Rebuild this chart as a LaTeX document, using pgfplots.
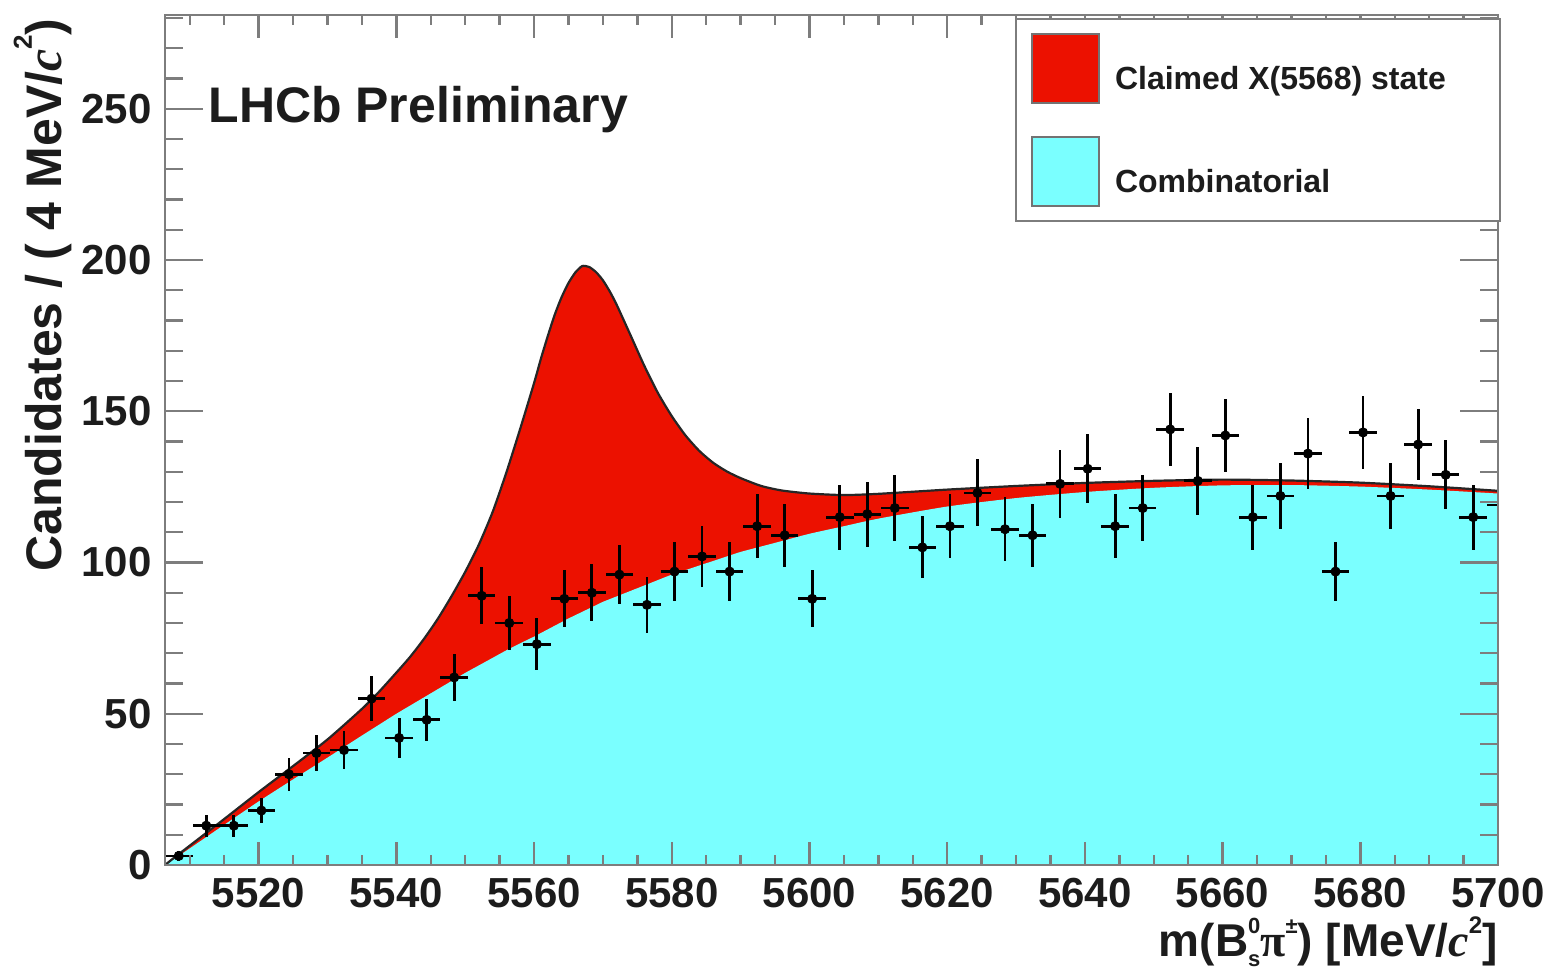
\documentclass[border=0pt]{standalone}
\usepackage{fontspec}
\setmainfont{Liberation Sans}
\newfontfamily\seriffont{Liberation Serif}
\usepackage{pgfplots}
\pgfplotsset{compat=1.18}
\usepackage{pgfplotstable}

\definecolor{sigred}{RGB}{236,17,0}
\definecolor{combcyan}{RGB}{122,255,255}
\definecolor{framegray}{RGB}{125,125,125}
\definecolor{ink}{RGB}{28,28,28}

% Fit components: B = combinatorial background, T = background + X(5568) signal
\pgfplotstableread{
x      B      T
5506.4 0.0    0.0
5508   2.4    2.9
5510   5.5    6.4
5515   13.3   15.2
5520   21.0   24.1
5525   28.3   32.7
5530   35.5   41.5
5535   42.8   51.6
5537.5 46.4   57.3
5540   50.0   63.6
5542   52.7   68.8
5544   55.4   74.7
5546   58.1   81.3
5548   60.8   88.8
5550   63.5   96.9
5552   66.0   106.0
5554   68.5   116.8
5556   71.0   129.9
5558   73.3   144.3
5560   75.5   159.3
5561   76.7   167.4
5562   77.9   174.9
5563   79.1   181.9
5564   80.3   187.7
5565   81.5   192.4
5566   82.6   195.9
5567   83.7   198.0
5568   84.8   197.7
5569   85.9   196.0
5570   87.0   193.3
5571   87.9   189.6
5572   88.8   185.2
5574   90.6   175.2
5576   92.4   165.1
5578   94.2   156.0
5580   96.0   148.4
5582   97.5   142.0
5584   99.0   136.9
5586   100.5  133.0
5588   102.0  130.1
5590   103.5  127.9
5593   105.3  125.3
5596   107.1  123.8
5600   109.5  122.8
5605   112.0  122.3
5610   114.5  122.7
5620   118.5  124.1
5630   121.3  125.3
5640   123.3  126.3
5650   124.7  127.0
5660   125.5  127.4
5670   125.6  127.1
5680   125.1  126.4
5690   124.1  125.2
5700   122.8  123.7
}\fitcurves

% Candidates per 4 MeV bin with Poisson uncertainties
\pgfplotstableread{
x      y    ex  ey
5508.4 3    2   1.73
5512.4 13   2   3.61
5516.4 13   2   3.61
5520.4 18   2   4.24
5524.4 30   2   5.48
5528.4 37   2   6.08
5532.4 38   2   6.16
5536.4 55   2   7.42
5540.4 42   2   6.48
5544.4 48   2   6.93
5548.4 62   2   7.87
5552.4 89   2   9.43
5556.4 80   2   8.94
5560.4 73   2   8.54
5564.4 88   2   9.38
5568.4 90   2   9.49
5572.4 96   2   9.80
5576.4 86   2   9.27
5580.4 97   2   9.85
5584.4 102  2   10.10
5588.4 97   2   9.85
5592.4 112  2   10.58
5596.4 109  2   10.44
5600.4 88   2   9.38
5604.4 115  2   10.72
5608.4 116  2   10.77
5612.4 118  2   10.86
5616.4 105  2   10.25
5620.4 112  2   10.58
5624.4 123  2   11.09
5628.4 111  2   10.54
5632.4 109  2   10.44
5636.4 126  2   11.22
5640.4 131  2   11.45
5644.4 112  2   10.58
5648.4 118  2   10.86
5652.4 144  2   12.00
5656.4 127  2   11.27
5660.4 142  2   11.92
5664.4 115  2   10.72
5668.4 122  2   11.05
5672.4 136  2   11.66
5676.4 97   2   9.85
5680.4 143  2   11.96
5684.4 122  2   11.05
5688.4 139  2   11.79
5692.4 129  2   11.36
5696.4 115  2   10.72
5700.4 119  2   10.91
}\candidates

\begin{document}
\begin{tikzpicture}
\begin{axis}[
  scale only axis,
  width=666.5pt, height=425pt,
  xmin=5506.4, xmax=5700,
  ymin=0, ymax=281,
  axis on top,
  clip marker paths=true,
  axis line style={draw=framegray, line width=1.3pt},
  every tick/.style={draw=framegray, line width=1.2pt},
  tick align=inside,
  xtick={5520,5540,...,5700},
  minor xtick={5510,5515,...,5700},
  ytick={0,50,...,250},
  minor ytick={10,20,...,280},
  xtick style={/pgfplots/major tick length=11.5pt, /pgfplots/minor tick length=5pt},
  ytick style={/pgfplots/major tick length=19pt, /pgfplots/minor tick length=9pt},
  /pgf/number format/assume math mode=true,
  /pgf/number format/1000 sep={},
  tick label style={font=\fontsize{21}{21}\selectfont\bfseries, text=ink, inner sep=0pt},
  x tick label style={yshift=-6.5pt},
  y tick label style={xshift=-6.5pt},
  xlabel={m(B\makebox[0pt][l]{\raisebox{0.5em}{\fontsize{11}{11}\selectfont 0}}\raisebox{-0.22em}{\fontsize{11}{11}\selectfont s}{\seriffont π}\raisebox{0.5em}{\fontsize{11}{11}\selectfont ±}) [MeV/{\seriffont\itshape c}\raisebox{0.5em}{\fontsize{12}{12}\selectfont 2}]},
  xlabel style={at={(rel axis cs:1,-0.108)}, anchor=base east, inner sep=0pt,
    font=\fontsize{23}{23}\selectfont\bfseries, text=ink},
  ylabel={Candidates / ( 4 MeV/{\seriffont\itshape c}\raisebox{0.6em}{\fontsize{13}{13}\selectfont 2})},
  ylabel style={at={(rel axis cs:-0.0773,0.9965)}, anchor=base east, inner sep=0pt,
    font=\fontsize{25}{25}\selectfont\bfseries, text=ink},
  legend style={at={(rel axis cs:0.6377,0.9965)}, anchor=north west,
    draw=framegray, line width=1.2pt, fill=white,
    inner xsep=7.5pt, inner ysep=7pt,
    font=\fontsize{16}{16}\selectfont\bfseries,
    text=ink, row sep=16pt, column sep=7.5pt,
    nodes={inner sep=0pt}},
  legend cell align=left,
  legend image code/.code={\draw[#1, draw=black!55, line width=0.9pt] (0pt,-11.9pt) rectangle (33.5pt,22.6pt);},
]
\addplot[fill=sigred, draw=none, smooth, tension=0.4] table[x=x, y=T] {\fitcurves} \closedcycle;
\addlegendentry{\makebox[185pt][l]{Claimed X(5568) state}}
\addplot[fill=combcyan, draw=none, smooth, tension=0.4] table[x=x, y=B] {\fitcurves} \closedcycle;
\addlegendentry{\makebox[185pt][l]{Combinatorial}}
\addplot[black!85, line width=1.1pt, smooth, tension=0.4, forget plot] table[x=x, y=T] {\fitcurves};
\addplot[only marks, mark=*, mark size=2.3pt, black, forget plot,
  error bars/.cd, x dir=both, x explicit, y dir=both, y explicit,
  error mark=none, error bar style={line width=1.4pt, black}]
  table[x=x, y=y, x error=ex, y error=ey] {\candidates};
\node[anchor=base west, inner sep=0pt, font=\fontsize{25}{25}\selectfont\bfseries, text=ink]
  at (rel axis cs:0.0323,0.874) {LHCb Preliminary};
\end{axis}
\pgfresetboundingbox
\useasboundingbox ([xshift=-82.5pt,yshift=-54.5pt]current axis.south west) rectangle ([xshift=27.5pt,yshift=7.5pt]current axis.north east);
\end{tikzpicture}
\end{document}
